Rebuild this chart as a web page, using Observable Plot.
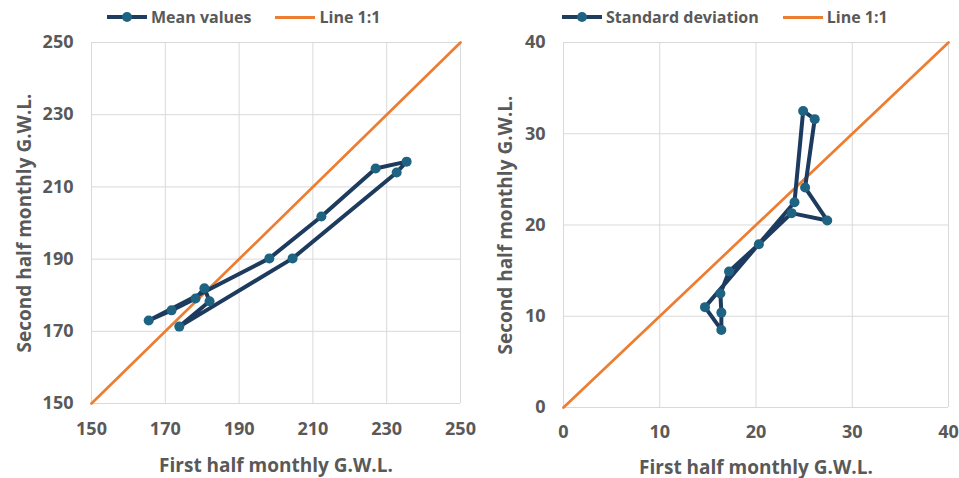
<!DOCTYPE html>
<html><head><meta charset="utf-8">
<script src="https://cdn.jsdelivr.net/npm/d3@7"></script>
<script src="https://cdn.jsdelivr.net/npm/@observablehq/plot@0.6"></script>
<style>
body{margin:0;background:#fff;font-family:"Open Sans",sans-serif;}
#wrap{position:relative;width:959px;height:478px;overflow:hidden;}
.panel{position:absolute;top:0;}
.legend{position:absolute;top:6px;height:22px;display:flex;align-items:center;font-weight:700;font-size:16px;color:#595959;white-space:nowrap;}
.sw{display:inline-block;position:relative;width:40px;height:4px;margin-right:4px;}
.sw .dot{position:absolute;left:15px;top:-3px;width:10px;height:10px;border-radius:50%;background:#1f6383;}
.gap{display:inline-block;width:24px;}
</style>
</head><body>
<div id="wrap">
  <div id="left" class="panel" style="left:0"></div>
  <div id="right" class="panel" style="left:480px"></div>
  <div class="legend" style="left:107px"><span class="sw" style="background:#1f3d5e"><span class="dot"></span></span>Mean values<span class="gap"></span><span class="sw" style="background:#ed7d31;height:3px"></span>Line 1:1</div>
  <div class="legend" style="left:562px"><span class="sw" style="background:#1f3d5e"><span class="dot"></span></span>Standard deviation<span class="gap"></span><span class="sw" style="background:#ed7d31;height:3px"></span>Line 1:1</div>
</div>
<script>
// Mean values (first half vs second half monthly G.W.L.)
const meanFirst  = [165.5, 171.7, 178.2, 180.6, 182.0, 173.8, 204.5, 232.7, 235.4, 227.0, 212.3, 198.2];
const meanSecond = [173.0, 175.8, 179.1, 181.9, 178.3, 171.3, 190.2, 214.0, 217.0, 215.1, 201.8, 190.2];
// Standard deviation
const sdFirst  = [14.7, 16.4, 16.4, 16.3, 17.2, 20.3, 23.7, 27.4, 25.1, 26.1, 24.9, 24.0];
const sdSecond = [11.0, 8.5, 10.4, 12.5, 14.9, 17.9, 21.3, 20.5, 24.1, 31.6, 32.5, 22.5];
// Axis ticks
const meanTicks = [150, 170, 190, 210, 230, 250];
const sdTicks = [0, 10, 20, 30, 40];
const xTitle = "First half monthly G.W.L.";
const yTitle = "Second half monthly G.W.L.";

const TEXT = "#595959";
function makePanel(xs, ys, ticks, w, m) {
  const pts = xs.map((x, i) => ({x, y: ys[i]}));
  const loop = pts.concat([pts[0]]);
  const lo = ticks[0], hi = ticks[ticks.length - 1];
  const diag = [{x: lo, y: lo}, {x: hi, y: hi}];
  return Plot.plot({
    width: w, height: 478,
    marginLeft: m.left, marginRight: m.right, marginTop: 42, marginBottom: m.bottom,
    x: {domain: [lo, hi]},
    y: {domain: [lo, hi]},
    style: {fontFamily: "Open Sans, sans-serif", fontWeight: 700, color: TEXT, background: "#fff"},
    marks: [
      Plot.gridX(ticks, {stroke: "#d9d9d9", strokeOpacity: 1, strokeWidth: 1}),
      Plot.gridY(ticks, {stroke: "#d9d9d9", strokeOpacity: 1, strokeWidth: 1}),
      Plot.axisX({ticks, tickSize: 0, tickPadding: m.xpad, fontSize: 18, fill: TEXT, label: null}),
      Plot.axisY({ticks, tickSize: 0, tickPadding: m.ypad, fontSize: 18, fill: TEXT, label: null}),
      Plot.axisX({ticks: [], tickSize: 0, fontSize: 19, fill: TEXT,
        label: xTitle, labelAnchor: "center", labelArrow: "none", labelOffset: m.xlab}),
      Plot.axisY({ticks: [], tickSize: 0, fontSize: 19, fill: TEXT,
        label: yTitle, labelAnchor: "center", labelArrow: "none", labelOffset: m.ylab}),
      Plot.line(diag, {x: "x", y: "y", stroke: "#ed7d31", strokeWidth: 2.7}),
      Plot.line(loop, {x: "x", y: "y", stroke: "#1c3b5e", strokeWidth: 4, strokeLinejoin: "round"}),
      Plot.dot(pts, {x: "x", y: "y", r: 5, fill: "#1f6383"})
    ]
  });
}
document.getElementById("left").append(makePanel(meanFirst, meanSecond, meanTicks, 480,
  {left: 91, right: 20, bottom: 75, xpad: 19, ypad: 18, xlab: 68, ylab: 74}));
document.getElementById("right").append(makePanel(sdFirst, sdSecond, sdTicks, 479,
  {left: 83, right: 11, bottom: 71, xpad: 18, ypad: 18, xlab: 66, ylab: 65}));
</script>
</body></html>
